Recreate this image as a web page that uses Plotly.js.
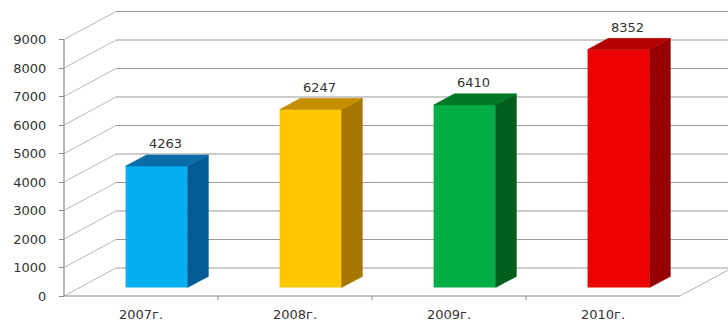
<!DOCTYPE html>
<html>
<head>
<meta charset="utf-8">
<script src="https://cdn.plot.ly/plotly-3.0.1.min.js"></script>
<style>html,body{margin:0;padding:0;background:#fff;}#chart{width:728px;height:323px;}</style>
</head>
<body>
<div id="chart"></div>
<script>
// ---- data ----
const categories = ['2007г.', '2008г.', '2009г.', '2010г.'];
const values = [4263, 6247, 6410, 8352];
const yTickValues = [0, 1000, 2000, 3000, 4000, 5000, 6000, 7000, 8000, 9000];

// ---- styles ----
const frontColors = ['#05AEEE', '#FFC800', '#00AE45', '#EC0000'];
const topColors   = ['#0B6CA8', '#C58F00', '#007826', '#B30000'];
const sideColors  = ['#005C92', '#A67700', '#005F1C', '#960000'];

// ---- geometry (pixel-based oblique projection) ----
const W = 728, H = 323;
const M = {l: 50, r: 0, t: 0, b: 10};
const plotW = W - M.l - M.r, plotH = H - M.t - M.b;
const pxPerX = 154;          // px per category
const pxPerY = 0.0285;       // px per value unit
const frontLeftPx = 64;      // front axis pixel x
const frontZeroPx = 296;     // front zero pixel y
const depthPxX = 52, depthPxY = 28;
const DX = depthPxX / pxPerX;
const DY = depthPxY / pxPerY;
const f0 = 0.30, f1 = 0.70;  // bar front / back depth fractions
const barW = 62 / pxPerX;

const xMin = -0.5 - (frontLeftPx - M.l) / pxPerX;
const xMax = -0.5 + (W - M.r - frontLeftPx) / pxPerX;
const yMin = -(M.t + plotH - frontZeroPx) / pxPerY;
const yMax = (frontZeroPx - M.t) / pxPerY;

const n = categories.length;
const xFront0 = -0.5, xFront1 = n - 0.5;
const yTop = yTickValues[yTickValues.length - 1];

const shapes = [];
function seg(x0, y0, x1, y1, color, width, dash) {
  shapes.push({type: 'line', xref: 'x', yref: 'y', x0, y0, x1, y1, layer: 'below',
    line: {color, width, dash: dash || 'solid'}});
}
yTickValues.forEach(v => {
  seg(xFront0 + DX, v + DY, xFront1 + DX, v + DY, '#9a9a9a', 1.2);
  seg(xFront0, v, xFront0 + DX, v + DY, '#b8b8b8', 1);
});
seg(xFront0, 0, xFront0, yTop, '#8a8a8a', 1.2);
seg(xFront0, 0, xFront1, 0, '#8a8a8a', 1.2);
seg(xFront1, 0, xFront1 + DX, DY, '#b0b0b0', 1);
for (let i = 0; i < n - 1; i++) seg(i + 0.5, 0, i + 0.5, -4 / pxPerY, '#8a8a8a', 1);

const traces = [];
const base0 = f0 * DY;
const fx = (f1 - f0) * DX, fy = (f1 - f0) * DY;
const centers = categories.map((c, i) => i + f0 * DX);

traces.push({
  type: 'bar', x: centers, y: values, base: values.map(() => base0), width: barW,
  marker: {color: frontColors, line: {width: 0}}, hoverinfo: 'skip', showlegend: false
});
values.forEach((v, i) => {
  const xL = centers[i] - barW / 2, xR = centers[i] + barW / 2;
  const yT = v + base0;
  traces.push({type: 'scatter', mode: 'lines', fill: 'toself', fillcolor: sideColors[i],
    x: [xR, xR, xR + fx, xR + fx, xR], y: [base0, yT, yT + fy, base0 + fy, base0],
    line: {color: sideColors[i], width: 0.5}, hoverinfo: 'skip', showlegend: false});
  traces.push({type: 'scatter', mode: 'lines', fill: 'toself', fillcolor: topColors[i],
    x: [xL, xR, xR + fx, xL + fx, xL], y: [yT, yT, yT + fy, yT + fy, yT],
    line: {color: topColors[i], width: 0.5}, hoverinfo: 'skip', showlegend: false});
});

const annotations = values.map((v, i) => ({
  x: centers[i] + 0.06, y: v + base0 + fy, xref: 'x', yref: 'y', text: String(v),
  showarrow: false, yanchor: 'middle', xanchor: 'center', yshift: 11,
  font: {family: 'DejaVu Sans', size: 13, color: '#333'}
}));

const tickFont = {family: 'DejaVu Sans', size: 13, color: '#333'};
const layout = {
  width: W, height: H, margin: M, paper_bgcolor: '#fff', plot_bgcolor: '#fff',
  showlegend: false, shapes, annotations,
  xaxis: {range: [xMin, xMax], anchor: 'free', position: (M.t + plotH - frontZeroPx) / plotH,
    tickmode: 'array', tickvals: categories.map((c, i) => i), ticktext: categories,
    ticks: '', showgrid: false, zeroline: false, showline: false, automargin: false,
    ticklabelstandoff: 9, tickfont: tickFont, fixedrange: true},
  yaxis: {range: [yMin, yMax], anchor: 'free', position: (frontLeftPx - M.l) / plotW,
    tickmode: 'array', tickvals: yTickValues, ticks: 'outside', ticklen: 5,
    tickcolor: '#8a8a8a', tickwidth: 1, showgrid: false, zeroline: false, showline: false,
    automargin: false, ticklabelstandoff: 10, tickfont: tickFont, fixedrange: true}
};
Plotly.newPlot('chart', traces, layout, {staticPlot: true, displayModeBar: false});
</script>
</body>
</html>
